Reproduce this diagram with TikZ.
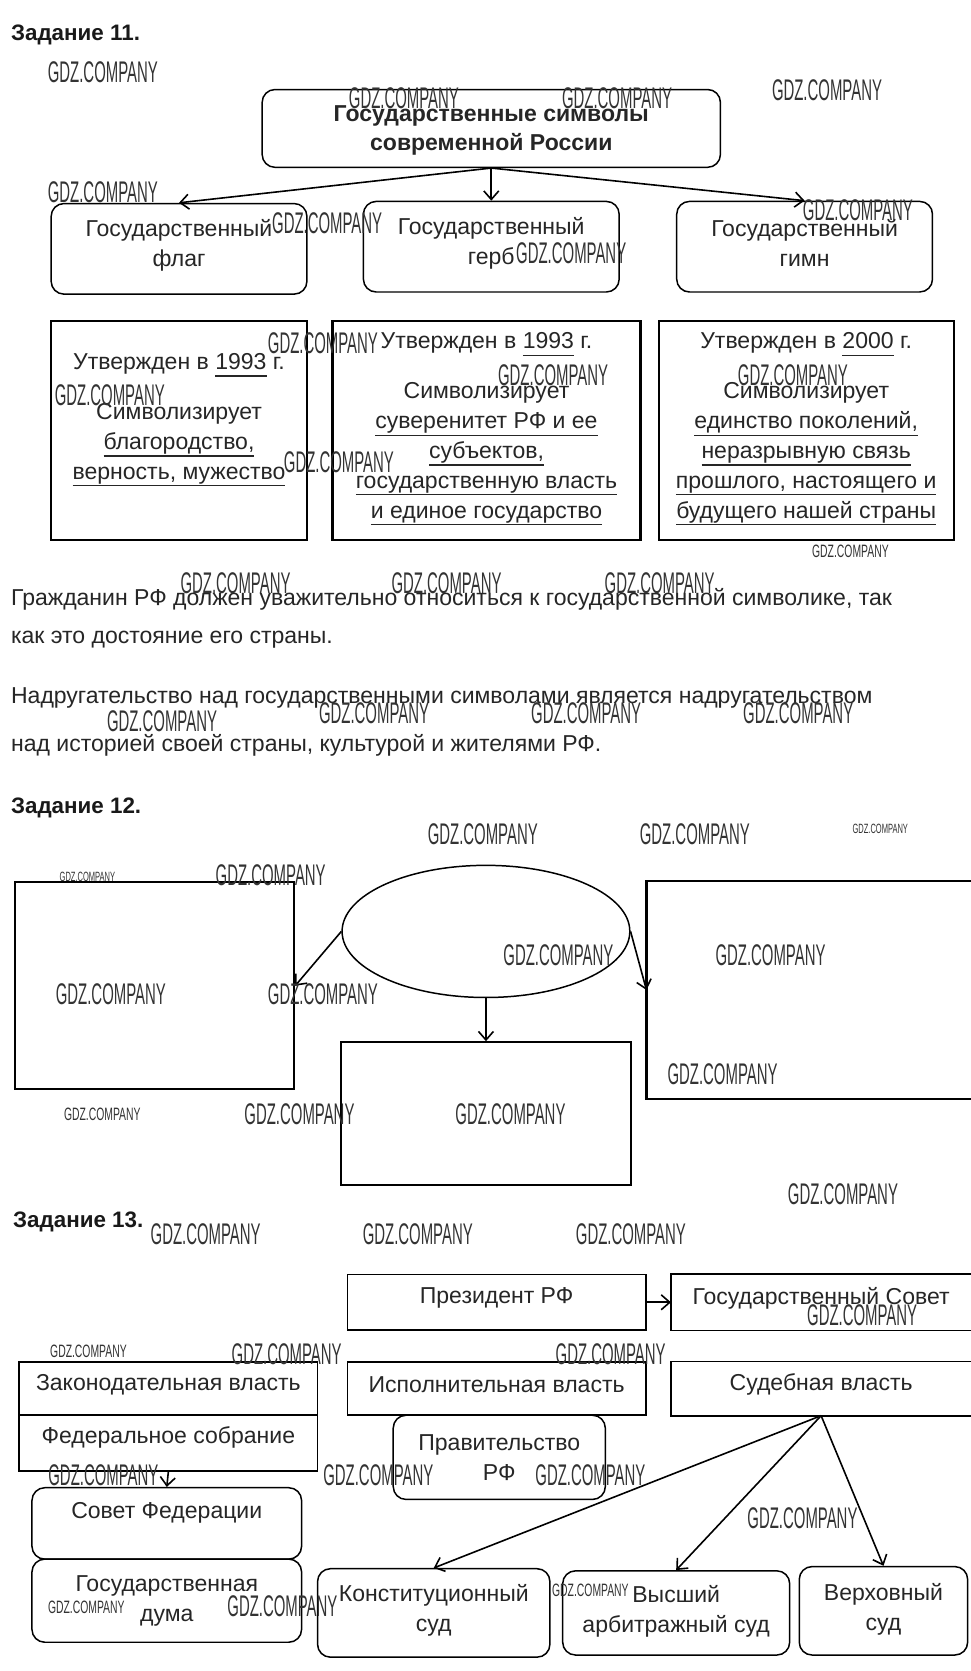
\documentclass[tikz,border=0pt]{standalone}
\usepackage{fontspec}
\setmainfont{Liberation Sans}
\usepackage{graphicx}
\usetikzlibrary{shapes.geometric,arrows.meta}
\newcommand{\gdzA}{\scalebox{0.5}[1]{\fontsize{14pt}{14pt}\selectfont GDZ.COMPANY}}
\newcommand{\gdzB}{\scalebox{0.58}[1]{\fontsize{8.4pt}{8.4pt}\selectfont GDZ.COMPANY}}
\newcommand{\gdzC}{\scalebox{0.56}[1]{\fontsize{6.3pt}{6.3pt}\selectfont GDZ.COMPANY}}
\newcommand{\ulx}[1]{\setbox0\hbox{#1}\rlap{\vrule height -2.8pt depth 3.4pt width \wd0}\box0\relax}
\begin{document}
\begin{tikzpicture}[x=0.5pt,y=-0.5pt,
  txt/.style={font=\fontsize{10.8pt}{14pt}\selectfont, text=black!85, inner sep=0pt, align=center},
  para/.style={font=\fontsize{10.8pt}{14pt}\selectfont, text=black!85, inner sep=0pt, anchor=west},
  hdr/.style={font=\bfseries\fontsize{10.5pt}{12pt}\selectfont, text=black!90, inner sep=0pt, anchor=west},
  rbox/.style={draw, rounded corners=6pt, line width=0.7pt, inner sep=0pt, txt},
  sbox/.style={draw, line width=1pt, inner sep=0pt},
  tbox/.style={draw, line width=0.8pt, inner sep=0pt, txt},
  obox/.style={inner sep=0pt, txt},
  arr/.style={-{Straight Barb[length=4pt,width=7pt]}, line width=0.75pt},
  wm/.style={inner sep=0pt, text=black!80}
]
\fill[white] (0,0) rectangle (911,1568);
\useasboundingbox (0,0) rectangle (911,1568);

% ---------- Task 11 ----------
\node[hdr] (h11) at (10,33) {Задание 11.};
\node[rbox, minimum width=215pt, minimum height=36.5pt,
      font=\bfseries\fontsize{10.8pt}{13.5pt}\selectfont] (top) at (461,120.5) {};
\node[txt, font=\bfseries\fontsize{10.8pt}{13.5pt}\selectfont] (topt) at (461,122.5)
      {Государственные символы\\современной России};
\node[rbox, minimum width=120pt, minimum height=42.5pt] (flag) at (168,233.5) {};
\node[txt] (flagt) at (168,230) {Государственный\\флаг};
\node[rbox, minimum width=120pt, minimum height=42.5pt] (coat) at (461,231.5) {};
\node[txt] (coatt) at (461,228) {Государственный\\герб};
\node[rbox, minimum width=120pt, minimum height=42.5pt] (anthem) at (755,231.5) {};
\node[txt] (anthemt) at (755,228) {Государственный\\гимн};
\draw[arr] (top.south) -- (flag.north);
\draw[arr] (top.south) -- (coat.north);
\draw[arr] (top.south) -- (anthem.north);

\node[sbox, minimum width=120pt, minimum height=103pt] (b1) at (168,404) {};
\node[sbox, minimum width=144.5pt, minimum height=103pt] (b2) at (456.5,404) {};
\node[sbox, minimum width=138.5pt, minimum height=103pt] (b3) at (756.5,404) {};
\node[txt] (t1) at (168,394) {Утвержден в \ulx{1993} г.\\[9.5pt]Символизирует\\\ulx{благородство,}\\\ulx{верность, мужество}};
\node[txt] (t2) at (456.5,402.5) {Утвержден в \ulx{1993} г.\\[9.5pt]Символизирует\\\ulx{суверенитет РФ и ее}\\\ulx{субъектов,}\\\ulx{государственную власть}\\\ulx{и единое государство}};
\node[txt] (t3) at (756.5,402.5) {Утвержден в \ulx{2000} г.\\[9.5pt]Символизирует\\\ulx{единство поколений,}\\\ulx{неразрывную связь}\\\ulx{прошлого, настоящего и}\\\ulx{будущего нашей страны}};

\node[para] (p1) at (10,562) {Гражданин РФ должен уважительно относиться к государственной символике, так};
\node[para] (p2) at (10,600) {как это достояние его страны.};
\node[para] (p3) at (10,655) {Надругательство над государственными символами является надругательством};
\node[para] (p4) at (10,699) {над историей своей страны, культурой и жителями РФ.};

% ---------- Task 12 ----------
\node[hdr] (h12) at (10,758) {Задание 12.};
\node[ellipse, draw, line width=0.7pt, minimum width=135pt, minimum height=62pt, inner sep=0pt] (ell) at (456,874) {};
\node[sbox, minimum width=131pt, minimum height=97pt] (lbox) at (145,925) {};
\node[sbox, minimum width=136pt, minimum height=67pt] (bbox) at (456,1045) {};
\node[inner sep=0pt, minimum width=152pt, minimum height=102pt] (rb) at (759,929) {};
\draw[line width=1pt] (rb.north east) -- (rb.north west) -- (rb.south west) -- (rb.south east);
\draw[arr] (ell.west) -- (lbox.east);
\draw[arr] (ell.south) -- (bbox.north);
\draw[arr] (ell.east) -- (rb.west);

% ---------- Task 13 ----------
\node[hdr] (h13) at (12,1147) {Задание 13.};
\node[tbox, minimum width=140pt, minimum height=26pt] (pres) at (466,1222) {};
\node[txt] (prest) at (466,1218) {Президент РФ};
\node[obox, minimum width=140.5pt, minimum height=26pt] (gs) at (770.5,1222) {};
\node[txt] (gst) at (770.5,1218) {Государственный Совет};
\draw[line width=0.8pt] (gs.north east) -- (gs.north west) -- (gs.south west) -- (gs.south east);
\draw[arr] (pres.east) -- (gs.west);

\node[tbox, minimum width=140pt, minimum height=25pt] (zak) at (158,1303) {};
\node[txt] (zakt) at (158,1299) {Законодательная власть};
\node[tbox, minimum width=140pt, minimum height=26pt] (fed) at (158,1354) {};
\node[txt] (fedt) at (158,1349) {Федеральное собрание};
\node[tbox, minimum width=140pt, minimum height=25pt] (isp) at (466,1303) {};
\node[txt] (ispt) at (466,1299) {Исполнительная власть};
\node[obox, minimum width=140.5pt, minimum height=25pt] (sud) at (770.5,1303) {};
\node[txt] (sudt) at (770.5,1299) {Судебная власть};
\draw[line width=0.8pt] (sud.north east) -- (sud.north west) -- (sud.south west) -- (sud.south east);

\node[rbox, minimum width=99.5pt, minimum height=39.5pt] (prav) at (468.5,1367.5) {Правительство\\РФ};
\node[rbox, minimum width=126.5pt, minimum height=33.5pt] (sf) at (156.5,1429.5) {};
\node[txt] (sft) at (156.5,1420) {Совет Федерации};
\node[rbox, minimum width=126.5pt, minimum height=39pt] (gd) at (156.5,1502) {Государственная\\дума};
\draw[arr] (fed.south) -- (sf.north);

\node[rbox, minimum width=109pt, minimum height=41.5pt] (konst) at (407,1513.5) {};
\node[txt] (konstt) at (407,1511) {Конституционный\\суд};
\node[rbox, minimum width=106.5pt, minimum height=39.5pt] (vys) at (634.5,1513.5) {};
\node[txt] (vyst) at (634.5,1512) {Высший\\арбитражный суд};
\node[rbox, minimum width=79pt, minimum height=41.5pt] (verh) at (829,1511.5) {};
\node[txt] (verht) at (829,1510.5) {Верховный\\суд};
\draw[arr] (sud.south) -- (konst.north);
\draw[arr] (sud.south) -- (vys.north);
\draw[arr] (sud.south) -- (verh.north);

% ---------- watermarks ----------
\node[wm] (w1) at (96.5,67.5) {\gdzA};
\node[wm] (w2) at (379,92) {\gdzA};
\node[wm] (w3) at (579,92) {\gdzA};
\node[wm] (w4) at (776,85) {\gdzA};
\node[wm] (w5) at (96.5,180) {\gdzA};
\node[wm] (w6) at (307,209) {\gdzA};
\node[wm] (w7) at (536,238) {\gdzA};
\node[wm] (w8) at (805,197) {\gdzA};
\node[wm] (w9) at (303,322) {\gdzA};
\node[wm] (w10) at (519,352) {\gdzA};
\node[wm] (w11) at (744,352) {\gdzA};
\node[wm] (w12) at (103,371) {\gdzA};
\node[wm] (w13) at (318,434) {\gdzA};
\node[wm] (w14) at (798,517) {\gdzB};
\node[wm] (w15) at (221,547) {\gdzA};
\node[wm] (w16) at (419,547) {\gdzA};
\node[wm] (w17) at (619,547) {\gdzA};
\node[wm] (w18) at (152,677) {\gdzA};
\node[wm] (w19) at (351,669) {\gdzA};
\node[wm] (w20) at (550,669) {\gdzA};
\node[wm] (w21) at (749,669) {\gdzA};
\node[wm] (w22) at (453,783) {\gdzA};
\node[wm] (w23) at (652,783) {\gdzA};
\node[wm] (w24) at (826,778) {\gdzC};
\node[wm] (w25) at (82,823) {\gdzC};
\node[wm] (w26) at (254,821) {\gdzA};
\node[wm] (w27) at (524,896) {\gdzA};
\node[wm] (w28) at (723,896) {\gdzA};
\node[wm] (w29) at (104,933) {\gdzA};
\node[wm] (w30) at (303,933) {\gdzA};
\node[wm] (w31) at (96,1046) {\gdzB};
\node[wm] (w32) at (281,1046) {\gdzA};
\node[wm] (w33) at (479,1046) {\gdzA};
\node[wm] (w34) at (678,1008) {\gdzA};
\node[wm] (w35) at (791,1121) {\gdzA};
\node[wm] (w36) at (193,1158) {\gdzA};
\node[wm] (w37) at (392,1158) {\gdzA};
\node[wm] (w38) at (592,1158) {\gdzA};
\node[wm] (w39) at (809,1234) {\gdzA};
\node[wm] (w40) at (83,1268) {\gdzB};
\node[wm] (w41) at (269,1271) {\gdzA};
\node[wm] (w42) at (573,1271) {\gdzA};
\node[wm] (w43) at (97,1384) {\gdzA};
\node[wm] (w44) at (355,1384) {\gdzA};
\node[wm] (w45) at (554,1384) {\gdzA};
\node[wm] (w46) at (753,1425) {\gdzA};
\node[wm] (w47) at (81,1508) {\gdzB};
\node[wm] (w48) at (265,1507) {\gdzA};
\node[wm] (w49) at (554,1492) {\gdzB};
\end{tikzpicture}
\end{document}
